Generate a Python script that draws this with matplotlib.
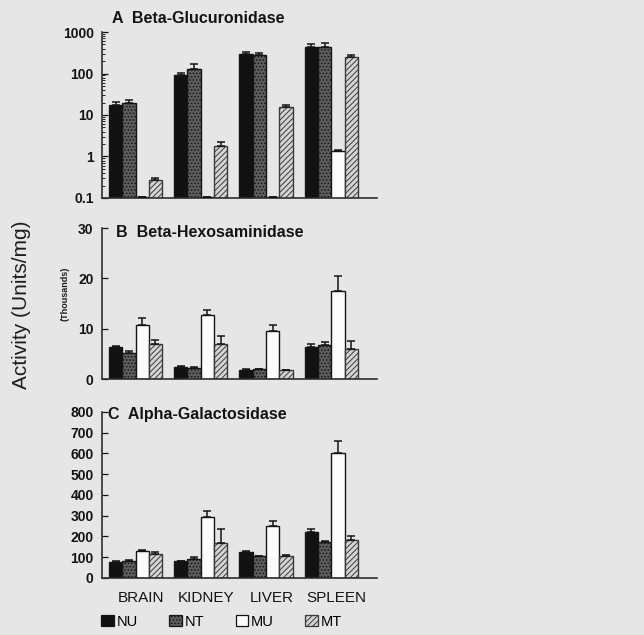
import numpy as np
import matplotlib
matplotlib.use("Agg")
import matplotlib.pyplot as plt
from matplotlib.patches import Patch

plt.rcParams["font.family"] = ["Liberation Sans", "DejaVu Sans"]
plt.rcParams["hatch.linewidth"] = 0.7

# ---- data -------------------------------------------------------------
tissues = ["BRAIN", "KIDNEY", "LIVER", "SPLEEN"]
groups = ["NU", "NT", "MU", "MT"]

# A: Beta-Glucuronidase (Units/mg, log scale)
gluc_nu = [17.5, 92, 290, 443]
gluc_nt = [20, 128, 285, 440]
gluc_mu = [0.105, 0.105, 0.105, 1.36]
gluc_mt = [0.27, 1.82, 15.5, 250]
gluc_nu_err = [3.5, 13, 34, 70]
gluc_nt_err = [3, 39, 31, 90]
gluc_mu_err = [0, 0, 0, 0.05]
gluc_mt_err = [0.04, 0.45, 2.3, 34]

# B: Beta-Hexosaminidase (thousands of Units/mg)
hex_nu = [6.35, 2.36, 1.83, 6.4]
hex_nt = [5.24, 2.16, 1.9, 6.7]
hex_mu = [10.7, 12.8, 9.5, 17.5]
hex_mt = [6.9, 6.9, 1.7, 6.0]
hex_nu_err = [0.2, 0.15, 0.1, 0.5]
hex_nt_err = [0.4, 0.15, 0.1, 0.6]
hex_mu_err = [1.5, 1.0, 1.2, 2.9]
hex_mt_err = [0.8, 1.6, 0.05, 1.5]

# C: Alpha-Galactosidase (Units/mg)
gal_nu = [78, 80, 123, 222]
gal_nt = [82, 90, 105, 175]
gal_mu = [130, 292, 250, 600]
gal_mt = [115, 170, 104, 183]
gal_nu_err = [3, 3, 6, 16]
gal_nt_err = [3, 13, 3, 3]
gal_mu_err = [6, 30, 26, 59]
gal_mt_err = [8, 64, 5, 19]

# ---- styling ----------------------------------------------------------
bg = "#e6e6e6"
ink = "#151515"
txt = "#141414"
styles = {
    "NU": dict(facecolor="#121212", edgecolor=ink, hatch=None),
    "NT": dict(facecolor="#5e5e5e", edgecolor=ink, hatch="....."),
    "MU": dict(facecolor="#fbfbfb", edgecolor=ink, hatch=None),
    "MT": dict(facecolor="#d4d4d4", edgecolor="#3a3a3a", hatch="//////"),
}
width = 0.204
x = np.arange(len(tissues))
offsets = (np.arange(len(groups)) - 1.5) * width

fig = plt.figure(figsize=(6.44, 6.35), dpi=100, facecolor=bg)

left, w = 0.1584, 0.427
axA = fig.add_axes([left, 0.6882, w, 0.2614])
axB = fig.add_axes([left, 0.4031, w, 0.2378])
axC = fig.add_axes([left, 0.0898, w, 0.2614])


def draw_panel(ax, series, errors):
    for off, g, vals, errs in zip(offsets, groups, series, errors):
        st = styles[g]
        ax.bar(x + off, vals, width, color=st["facecolor"],
               edgecolor=st["edgecolor"], hatch=st["hatch"], linewidth=1.0,
               zorder=2)
        ax.errorbar(x + off, vals, yerr=[np.zeros(len(errs)), errs],
                    fmt="none", ecolor=ink, elinewidth=1.1, capsize=3.2,
                    capthick=1.1, zorder=3)
    ax.set_facecolor("none")
    ax.set_xlim(-0.513, 3.698)
    for s in ("top", "right"):
        ax.spines[s].set_visible(False)
    for s in ("left", "bottom"):
        ax.spines[s].set_color("#2e2e2e")
        ax.spines[s].set_linewidth(1.2)
    ax.set_xticks([])
    ax.tick_params(axis="y", direction="in", length=4, width=0.9,
                   labelsize=10, pad=6, colors=txt)
    ax.tick_params(axis="y", which="minor", direction="in", length=2,
                   width=0.6)


draw_panel(axA, [gluc_nu, gluc_nt, gluc_mu, gluc_mt],
           [gluc_nu_err, gluc_nt_err, gluc_mu_err, gluc_mt_err])
axA.set_yscale("log")
axA.set_ylim(0.1, 1000)
axA.set_yticks([0.1, 1, 10, 100, 1000])
axA.set_yticklabels(["0.1", "1", "10", "100", "1000"], fontweight="bold")
axA.text(0.036, 1.084, "A  Beta-Glucuronidase", transform=axA.transAxes,
         fontsize=11.5, fontweight="bold", va="center", ha="left", color=txt)

draw_panel(axB, [hex_nu, hex_nt, hex_mu, hex_mt],
           [hex_nu_err, hex_nt_err, hex_mu_err, hex_mt_err])
axB.set_ylim(0, 30)
axB.set_yticks([0, 10, 20, 30])
axB.set_yticklabels(["0", "10", "20", "30"], fontweight="bold")
axB.text(0.05, 0.972, "B  Beta-Hexosaminidase", transform=axB.transAxes,
         fontsize=11.5, fontweight="bold", va="center", ha="left", color=txt)

draw_panel(axC, [gal_nu, gal_nt, gal_mu, gal_mt],
           [gal_nu_err, gal_nt_err, gal_mu_err, gal_mt_err])
axC.set_ylim(0, 800)
axC.set_yticks(np.arange(0, 801, 100))
axC.set_yticklabels([str(v) for v in range(0, 801, 100)], fontweight="bold")
axC.text(0.022, 0.982, "C  Alpha-Galactosidase", transform=axC.transAxes,
         fontsize=11.5, fontweight="bold", va="center", ha="left", color=txt)

# tissue names under the bottom panel
for xi, name in zip(x, tissues):
    axC.text(xi + 0.08, -0.12, name, transform=axC.get_xaxis_transform(),
             ha="center", va="center", fontsize=11, color=txt)

# axis titles
fig.text(0.034, 0.52, "Activity (Units/mg)", rotation=90, ha="center",
         va="center", fontsize=15, color="#1e1e1e")
fig.text(0.101, 0.538, "(Thousands)", rotation=90, ha="center", va="center",
         fontsize=6.5, fontweight="bold", color="#1e1e1e")

handles = [Patch(facecolor=styles[g]["facecolor"],
                 edgecolor=styles[g]["edgecolor"],
                 hatch=styles[g]["hatch"], linewidth=0.9) for g in groups]
fig.legend(handles, groups, ncol=4, loc="center",
           bbox_to_anchor=(0.344, 0.021), frameon=False, fontsize=10.5,
           handlelength=0.85, handleheight=0.85, handletextpad=0.2,
           columnspacing=2.15, borderpad=0.1)

fig.savefig("out.png", dpi=100, facecolor=bg)
